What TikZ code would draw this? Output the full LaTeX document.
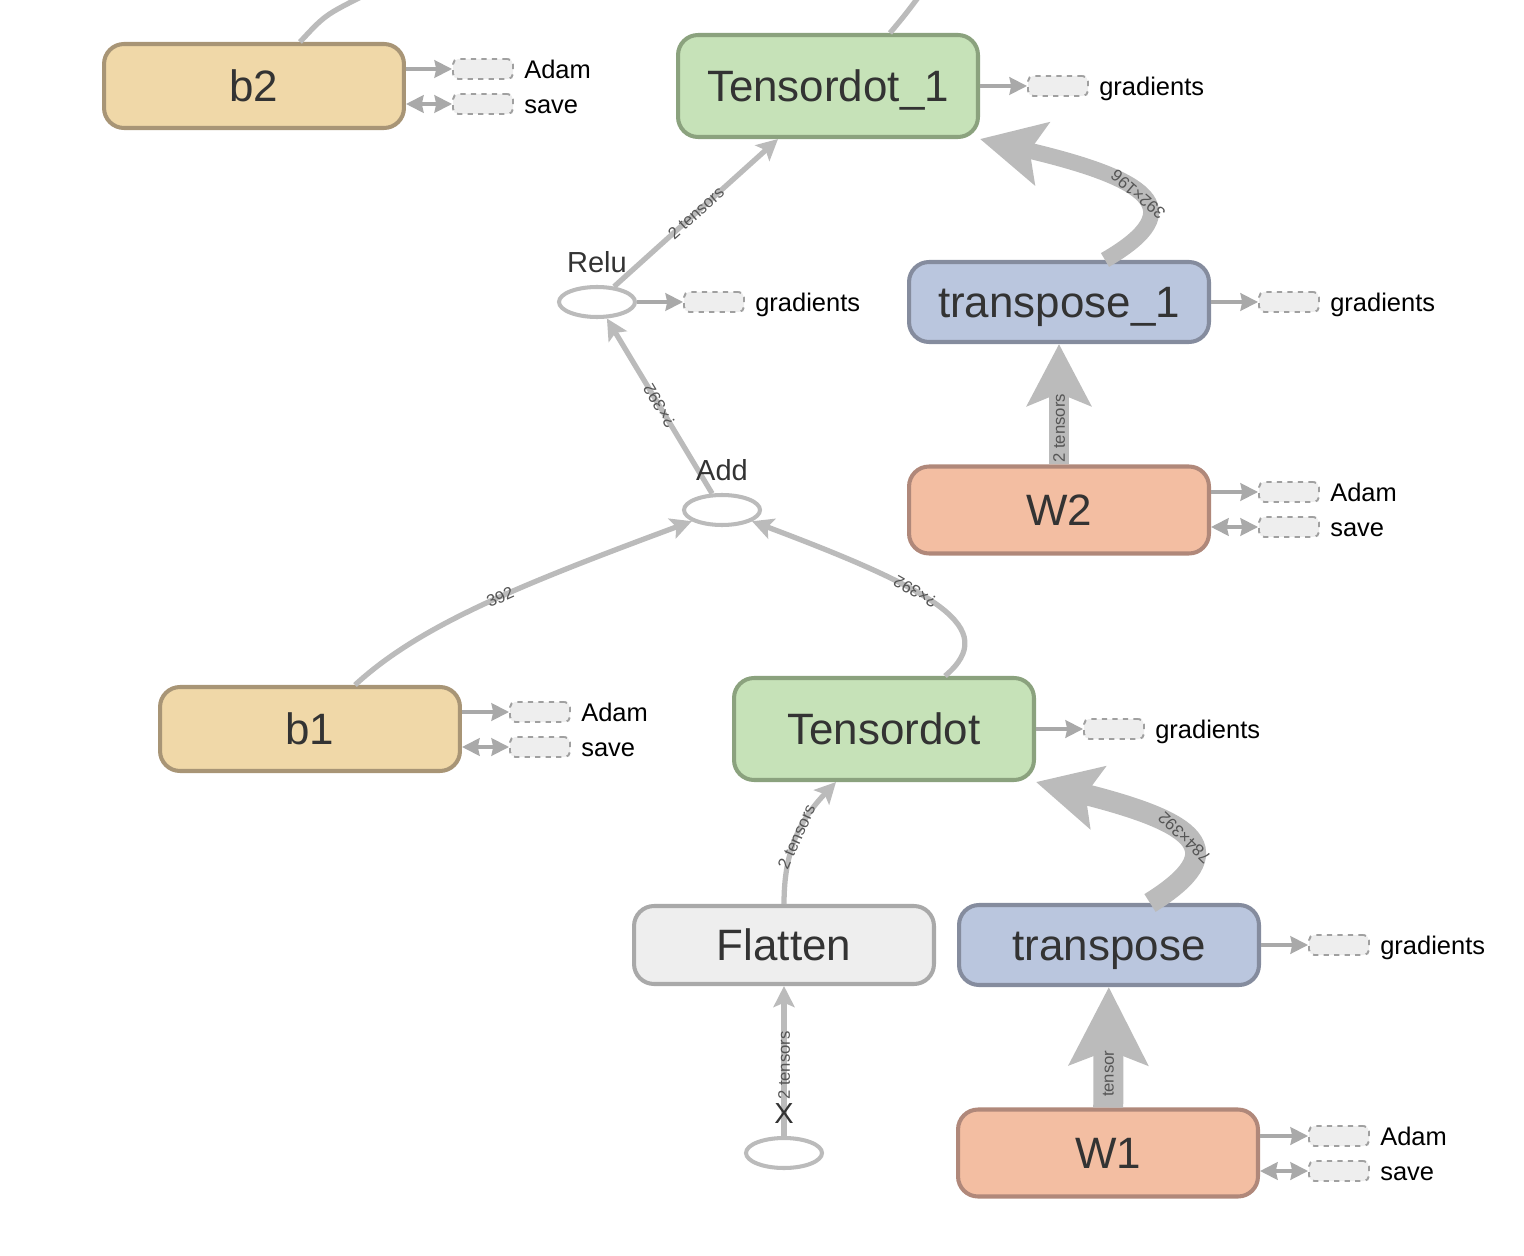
\documentclass[tikz,border=0pt]{standalone}
\usepackage{fontspec}
\setmainfont{Liberation Sans}
\usetikzlibrary{shapes.geometric, arrows.meta, positioning}

\definecolor{txtgray}{HTML}{333333}
\definecolor{lblgray}{HTML}{555555}
\definecolor{edgegray}{HTML}{BBBBBB}
\definecolor{auxline}{HTML}{A9A9A9}
\definecolor{auxdraw}{HTML}{A0A0A0}
\definecolor{auxfill}{HTML}{EEEEEE}
\definecolor{biasfill}{HTML}{F0D8A8}
\definecolor{biasdraw}{HTML}{A89576}
\definecolor{dotfill}{HTML}{C6E2B8}
\definecolor{dotdraw}{HTML}{8BA27E}
\definecolor{trfill}{HTML}{BAC6DE}
\definecolor{trdraw}{HTML}{858C9E}
\definecolor{wfill}{HTML}{F3BEA2}
\definecolor{wdraw}{HTML}{B0887A}
\definecolor{flfill}{HTML}{EEEEEE}
\definecolor{fldraw}{HTML}{A9A9A9}

\newcommand{\opfont}{\fontsize{25}{30}\selectfont}
\newcommand{\namefont}{\fontsize{16.5}{20}\selectfont}
\newcommand{\auxfont}{\fontsize{14.5}{17}\selectfont}
\newcommand{\edgefont}{\fontsize{9.5}{11}\selectfont}

\tikzstyle{opbox} = [rectangle, rounded corners=0.4cm, minimum width=6cm, text centered, line width=2.3pt, font=\opfont, text=txtgray, text height=18pt, text depth=0pt]
\tikzstyle{bias} = [opbox, fill=biasfill, draw=biasdraw, minimum height=1.68cm]
\tikzstyle{weight} = [opbox, fill=wfill, draw=wdraw, minimum height=1.74cm]
\tikzstyle{dotop} = [opbox, fill=dotfill, draw=dotdraw, minimum height=2.04cm]
\tikzstyle{transop} = [opbox, fill=trfill, draw=trdraw, minimum height=1.6cm]
\tikzstyle{plainop} = [opbox, fill=flfill, draw=fldraw, minimum height=1.56cm]
\tikzstyle{smallop} = [ellipse, draw=edgegray, fill=white, line width=2.3pt, minimum width=1.52cm, minimum height=0.6cm]
\tikzstyle{opname} = [font=\namefont, text=txtgray, inner sep=0pt]
\tikzstyle{attach} = [rectangle, rounded corners=3pt, dashed, draw=auxdraw, fill=auxfill, line width=1.1pt, minimum width=1.2cm, minimum height=0.4cm, inner sep=0pt]
\tikzstyle{attachtext} = [font=\auxfont, inner sep=0pt, text height=10.4pt, text depth=0pt]
\tikzstyle{auxarrow} = [draw=auxline, line width=1.9pt, -{Stealth[length=10pt,width=10pt,inset=1pt]}]
\tikzstyle{auxboth} = [draw=auxline, line width=1.9pt, {Stealth[length=10pt,width=10pt,inset=1pt]}-{Stealth[length=10pt,width=10pt,inset=1pt]}]
\tikzstyle{flow} = [draw=edgegray, line width=3pt, -{Stealth[length=12pt,width=12pt,inset=2.5pt]}]
\tikzstyle{heavyflow} = [draw=edgegray, -{Stealth[length=36pt,width=36pt,inset=7pt]}]
\tikzstyle{stub} = [draw=edgegray, line width=3pt]
\tikzstyle{elabel} = [sloped, allow upside down, font=\edgefont, text=lblgray, inner sep=0pt]

\begin{document}
\begin{tikzpicture}[x=0.02cm, y=-0.02cm]
\useasboundingbox (0,0) rectangle (1524,1256);

% operations
\node (b2) [bias] at (254,86) {b2};
\node (Tensordot_1) [dotop] at (828,86) {Tensordot\_1};
\node (Relu) [smallop] at (597,302) {};
\node (transpose_1) [transop] at (1059,302) {transpose\_1};
\node (Add) [smallop] at (722,510) {};
\node (W2) [weight] at (1059,510) {W2};
\node (b1) [bias] at (310,729) {b1};
\node (Tensordot) [dotop] at (884,729) {Tensordot};
\node (Flatten) [plainop] at (784,945) {Flatten};
\node (transpose) [transop] at (1109,945) {transpose};
\node (X) [smallop] at (784,1153) {};
\node (W1) [weight] at (1108,1153) {W1};

% attached boxes
\node (adamB2) [attach] at (483,69) {};
\node (saveB2) [attach] at (483,104) {};
\node (gradTD1) [attach] at (1058,86) {};
\node (gradRelu) [attach] at (714,302) {};
\node (gradT1) [attach] at (1289,302) {};
\node (adamW2) [attach] at (1289,492) {};
\node (saveW2) [attach] at (1289,527) {};
\node (adamB1) [attach] at (540,712) {};
\node (saveB1) [attach] at (540,747) {};
\node (gradTD) [attach] at (1114,729) {};
\node (gradT) [attach] at (1339,945) {};
\node (adamW1) [attach] at (1339,1136) {};
\node (saveW1) [attach] at (1339,1171) {};

\node (adamB2txt) [attachtext, right=0.2cm of adamB2] {Adam};
\node (saveB2txt) [attachtext, right=0.2cm of saveB2] {save};
\node (gradTD1txt) [attachtext, right=0.2cm of gradTD1] {gradients};
\node (gradRelutxt) [attachtext, right=0.2cm of gradRelu] {gradients};
\node (gradT1txt) [attachtext, right=0.2cm of gradT1] {gradients};
\node (adamW2txt) [attachtext, right=0.2cm of adamW2] {Adam};
\node (saveW2txt) [attachtext, right=0.2cm of saveW2] {save};
\node (adamB1txt) [attachtext, right=0.2cm of adamB1] {Adam};
\node (saveB1txt) [attachtext, right=0.2cm of saveB1] {save};
\node (gradTDtxt) [attachtext, right=0.2cm of gradTD] {gradients};
\node (gradTtxt) [attachtext, right=0.2cm of gradT] {gradients};
\node (adamW1txt) [attachtext, right=0.2cm of adamW1] {Adam};
\node (saveW1txt) [attachtext, right=0.2cm of saveW1] {save};

\draw [auxarrow] (b2.east |- adamB2) -- (adamB2);
\draw [auxboth] (b2.east |- saveB2) -- (saveB2);
\draw [auxarrow] (Tensordot_1) -- (gradTD1);
\draw [auxarrow] (Relu) -- (gradRelu);
\draw [auxarrow] (transpose_1) -- (gradT1);
\draw [auxarrow] (W2.east |- adamW2) -- (adamW2);
\draw [auxboth] (W2.east |- saveW2) -- (saveW2);
\draw [auxarrow] (b1.east |- adamB1) -- (adamB1);
\draw [auxboth] (b1.east |- saveB1) -- (saveB1);
\draw [auxarrow] (Tensordot) -- (gradTD);
\draw [auxarrow] (transpose) -- (gradT);
\draw [auxarrow] (W1.east |- adamW1) -- (adamW1);
\draw [auxboth] (W1.east |- saveW1) -- (saveW1);

% data flow
\coordinate (b2up) at (365,-5);
\coordinate (td1up) at (920,-5);
\draw [stub] ([xshift=0.92cm]b2.north) .. controls (325,15) .. (b2up);
\draw [stub] ([xshift=1.24cm]Tensordot_1.north) .. controls (905,15) .. (td1up);

\draw [flow] (Relu) -- ([xshift=-1cm]Tensordot_1.south) node [elabel, pos=0.5] {2 tensors};
\draw [flow] (Add) -- (Relu) node [elabel, pos=0.5] {?×392};
\draw [flow] ([xshift=0.9cm]b1.north) .. controls (420,625) and (520,585) .. (Add) node [elabel, pos=0.55] {392};
\draw [flow] ([xshift=1.22cm]Tensordot.north) .. controls (1002,628) and (935,590) .. (Add) node [elabel, pos=0.6] {?×392};
\draw [flow] (Flatten) .. controls (784,850) and (800,820) .. ([xshift=-0.96cm]Tensordot.south) node [elabel, pos=0.5] {2 tensors};
\draw [flow] (X) -- (Flatten) node [elabel, pos=0.47] {2 tensors};

\draw [heavyflow, line width=0.32cm] ([xshift=0.92cm]transpose_1.north) .. controls (1195,208) and (1145,178) .. (Tensordot_1.south east) node [elabel, pos=0.5] {392×196};
\draw [heavyflow, line width=0.4cm, -{Stealth[length=35pt,width=36pt,inset=7pt]}] (W2) -- (transpose_1) node [elabel, pos=0.3] {2 tensors};
\draw [heavyflow, line width=0.42cm] ([xshift=0.82cm]transpose.north) .. controls (1235,850) and (1195,822) .. (Tensordot.south east) node [elabel, pos=0.5] {784×392};
\draw [heavyflow, line width=0.6cm, -{Stealth[length=44pt,width=44pt,inset=8pt]}] (W1) -- (transpose) node [elabel, pos=0.28] {tensor};

% names of small ops
\node (reluname) [opname, above=0.24cm of Relu] {Relu};
\node (addname) [opname, above=0.24cm of Add] {Add};
\node (xname) [opname, above=0.24cm of X] {X};
\end{tikzpicture}
\end{document}
